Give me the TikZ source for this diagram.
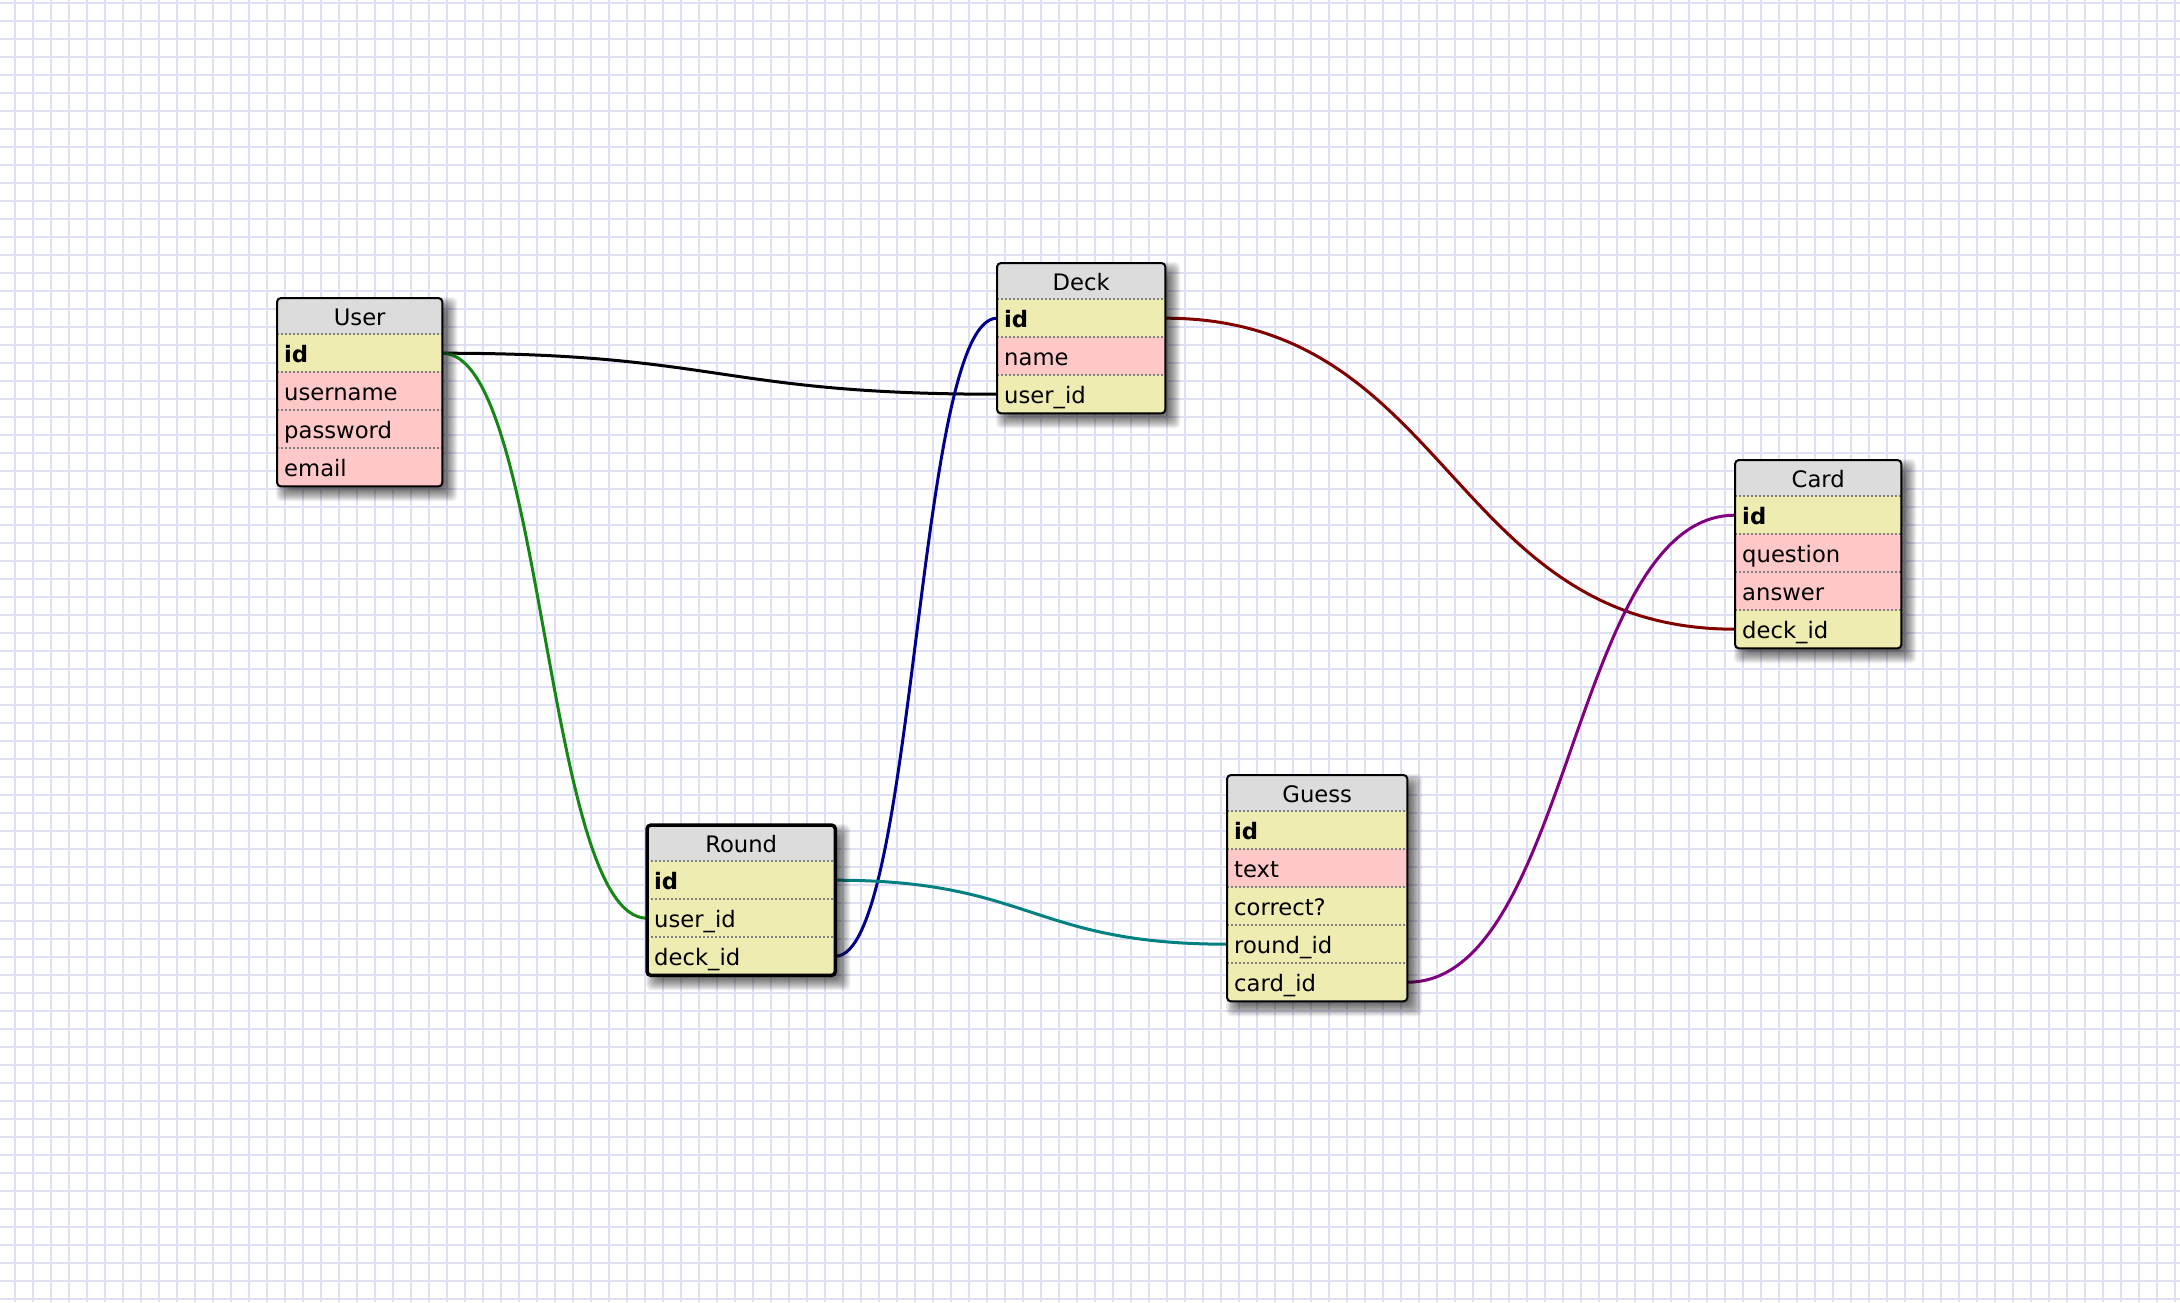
\documentclass[tikz,border=0pt]{standalone}
\usepackage{fontspec}
\setmainfont{DejaVu Sans}
\usetikzlibrary{calc}

\definecolor{gridc}{RGB}{224,224,245}
\definecolor{hdc}{RGB}{220,220,220}
\definecolor{fkc}{RGB}{238,236,176}
\definecolor{pkc}{RGB}{255,200,200}
\definecolor{sepc}{RGB}{128,128,128}
\definecolor{lgreen}{RGB}{20,135,20}
\definecolor{lblue}{RGB}{0,0,140}
\definecolor{lred}{RGB}{128,0,0}
\definecolor{lteal}{RGB}{0,128,128}
\definecolor{lpurple}{RGB}{128,0,128}

\pgfdeclarelayer{grid}
\pgfdeclarelayer{links}
\pgfdeclarelayer{shade}
\pgfdeclarelayer{cells}
\pgfsetlayers{grid,links,shade,cells,main}

\tikzset{
  cellfont/.style={font=\fontsize{22.7pt}{27pt}\selectfont},
  headcell/.style={cellfont, anchor=north west, minimum height=36pt,
    inner sep=0pt, text height=20pt, text depth=2pt},
  field/.style={cellfont, anchor=north west, minimum height=38pt,
    inner xsep=7pt, inner ysep=0pt, text height=20pt, text depth=2pt, align=left},
  sepline/.style={draw=sepc, line width=1.4pt, dash pattern=on 2pt off 2pt},
  frame/.style={draw=black, line width=2pt, rounded corners=4pt},
  shadowpiece/.style={fill=black, opacity=0.055, rounded corners=6pt},
  gridline/.style={draw=gridc, line width=2pt},
  link/.style={line width=3pt},
}

% one table: #1 frame options, #2 prefix, #3 x, #4 y, #5 width,
% #6 title, #7 key of the last row, #8 rows key/colour/text
\newcommand\ertable[8][]{%
  \pgfmathsetmacro\ertw{#5-14}%
  \node[headcell, minimum width=#5pt] (#2-head) at (#3,#4) {#6};
  \foreach \key/\kind/\txt [count=\i] in {#8} {%
    \pgfmathsetmacro\ery{#4+36+38*(\i-1)}%
    \node[field, minimum width=#5pt, text width=\ertw pt] (#2-\key) at (#3,\ery) {\txt};
    \draw[sepline] (#2-\key.north west) -- (#2-\key.north east);
  }%
  \begin{pgfonlayer}{cells}
    \begin{scope}
      \clip[rounded corners=4pt] (#2-head.north west) rectangle (#2-#7.south east);
      \fill[hdc] (#2-head.north west) rectangle (#2-head.south east);
      \foreach \key/\kind/\txt in {#8} {%
        \fill[\kind] (#2-\key.north west) rectangle (#2-\key.south east);
      }%
    \end{scope}
  \end{pgfonlayer}
  \begin{pgfonlayer}{shade}
    \foreach \e in {-7,...,8} {%
      \fill[shadowpiece] ($(#2-head.north west)+(7-\e,7-\e)$) rectangle ($(#2-#7.south east)+(7+\e,7+\e)$);
    }%
  \end{pgfonlayer}
  \draw[frame, #1] (#2-head.north west) rectangle (#2-#7.south east);
}

% relation line with horizontal tangents at both ends
\newcommand\erlink[3]{%
  \draw[link, #1] let \p1=(#2), \p2=(#3) in
    (\p1) .. controls ({0.5*\x1+0.5*\x2},\y1) and ({0.5*\x1+0.5*\x2},\y2) .. (\p2);
}

\begin{document}
\begin{tikzpicture}[x=1pt, y=-1pt]
  \useasboundingbox (0,0) rectangle (2180,1302);

  \begin{pgfonlayer}{grid}
    \fill[white] (0,0) rectangle (2180,1302);
    \foreach \gx in {15,33,...,2180} \draw[gridline] (\gx,0) -- (\gx,1302);
    \foreach \gy in {3,21,...,1302} \draw[gridline] (0,\gy) -- (2180,\gy);
  \end{pgfonlayer}

  \ertable{user}{277}{298}{165}{User}{email}{%
    id/fkc/\textbf{id}, username/pkc/username, password/pkc/password, email/pkc/email}
  \ertable{deck}{997}{263}{168}{Deck}{userid}{%
    id/fkc/\textbf{id}, name/pkc/name, userid/fkc/user\_id}
  \ertable{card}{1735}{460}{166}{Card}{deckid}{%
    id/fkc/\textbf{id}, question/pkc/question, answer/pkc/answer, deckid/fkc/deck\_id}
  \ertable[line width=3.5pt]{round}{647}{825}{188}{Round}{deckid}{%
    id/fkc/\textbf{id}, userid/fkc/user\_id, deckid/fkc/deck\_id}
  \ertable{guess}{1227}{775}{180}{Guess}{cardid}{%
    id/fkc/\textbf{id}, text/pkc/text, correct/fkc/correct?, roundid/fkc/round\_id, cardid/fkc/card\_id}

  \begin{pgfonlayer}{links}
    \erlink{black}{user-id.east}{deck-userid.west}
    \erlink{lgreen}{user-id.east}{round-userid.west}
    \erlink{lblue}{round-deckid.east}{deck-id.west}
    \erlink{lred}{deck-id.east}{card-deckid.west}
    \erlink{lteal}{round-id.east}{guess-roundid.west}
    \erlink{lpurple}{guess-cardid.east}{card-id.west}
  \end{pgfonlayer}
\end{tikzpicture}
\end{document}
